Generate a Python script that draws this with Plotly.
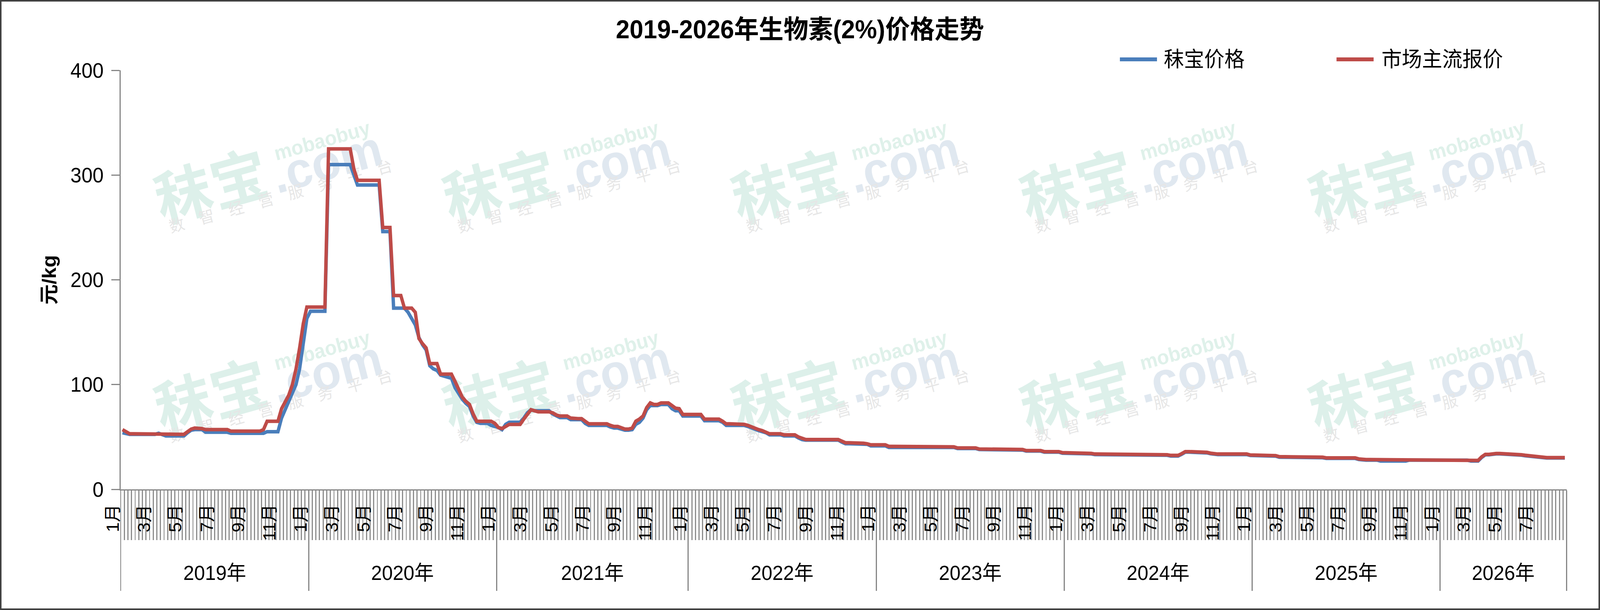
import plotly.graph_objects as go

# 2019-2026年生物素(2%)价格走势（周度数据）
years = ['2019年', '2020年', '2021年', '2022年', '2023年', '2024年', '2025年', '2026年']
weeks_per_year = [52, 52, 53, 52, 52, 52, 52, 35]
month_labels = [
    ['1月', '3月', '5月', '7月', '9月', '11月'],
    ['1月', '3月', '5月', '7月', '9月', '11月'],
    ['1月', '3月', '5月', '7月', '9月', '11月'],
    ['1月', '3月', '5月', '7月', '9月', '11月'],
    ['1月', '3月', '5月', '7月', '9月', '11月'],
    ['1月', '3月', '5月', '7月', '9月', '11月'],
    ['1月', '3月', '5月', '7月', '9月', '11月'],
    ['1月', '3月', '5月', '7月'],
]

# 秣宝价格 (元/kg)
mobao_2019 = [54, 53, 52.5, 52.5, 52.5, 52.5, 52.5, 52.5, 52.5, 52.5, 53.5, 52.5, 51, 51, 51, 51, 51, 51,
              54, 56.5, 57, 57, 57, 54.5, 54.5, 54.5, 54.5, 54.5, 54.5, 54.5, 53.5, 53.5, 53.5, 53.5, 53.5,
              53.5, 53.5, 53.5, 53.5, 53.5, 55, 55, 55, 55, 68, 76, 83, 92, 100, 115, 140, 163]
mobao_2020 = [170, 170, 170, 170, 170, 310, 310, 310, 310, 310, 310, 310, 300, 290.5, 290.5, 290.5, 290.5,
              290.5, 290.5, 290.5, 246, 246, 246, 173, 173, 173, 173, 169, 163, 157, 145, 138, 133, 118, 115,
              113.5, 109, 108, 107, 106, 97, 91, 86, 82, 79, 70, 64, 63, 63, 63, 61, 60]
mobao_2021 = [59, 57, 62, 64, 64, 64, 64, 68, 73, 76, 75, 75, 75, 75, 75, 72, 70, 68.5, 68.5, 68.5, 66.5,
              66.5, 66.5, 66.5, 63, 61, 61, 61, 61, 61, 61, 59.5, 58.5, 58.5, 57.5, 56.5, 56.5, 57, 62, 64, 68,
              76, 80, 80, 80, 81, 81, 81, 77, 75, 75, 70, 70]
mobao_2022 = [70, 70, 70, 70, 65.5, 65.5, 65.5, 65.5, 65.5, 64, 61, 61, 61, 61, 61, 61, 60, 58.5, 57, 56, 55,
              54, 52, 52, 52, 52, 51, 51, 51, 51, 49, 47.5, 47, 47, 47, 47, 47, 47, 47, 47, 47, 47, 45, 43.5,
              43.5, 43.5, 43.5, 43.5, 43.5, 43, 41.5, 41.5]
mobao_2023 = [41.5, 41.5, 41.5, 40, 40, 40, 40, 40, 40, 40, 40, 40, 40, 40, 40, 40, 40, 40, 40, 40, 40, 40,
              39, 39, 39, 39, 39, 39, 38, 38, 38, 38, 38, 38, 37.5, 37.5, 37.5, 37.5, 37.5, 37.5, 37.5, 36.5,
              36.5, 36.5, 36.5, 36.5, 35.5, 35.5, 35.5, 35.5, 35.5, 34.5]
mobao_2024 = [34.5, 34.5, 33.8, 33.8, 33.8, 33.8, 33.8, 33.8, 33.2, 33.2, 33.2, 33.2, 33.2, 33.2, 33.2, 33.2,
              33.2, 33.2, 33.2, 33.2, 33.2, 33.2, 33.2, 33.2, 33.2, 32.5, 32.5, 32.5, 32.5, 31.8, 31.8, 31.8,
              33.5, 35.5, 35.5, 35.5, 34.8, 34.8, 34.8, 34.8, 34, 33.2, 33.2, 33.2, 33.2, 33.2, 33.2, 33.2,
              33.2, 33.2, 33.2, 32.3]
mobao_2025 = [32.3, 32.3, 32.3, 31.7, 31.7, 31.7, 31.7, 30.7, 30.7, 30.7, 30.7, 30.7, 30.7, 30.7, 30.2, 30.2,
              30.2, 30.2, 30.2, 30.2, 29.5, 29.5, 29.5, 29.5, 29.5, 29.5, 29.5, 29.5, 29.5, 28.5, 27.9, 27.9,
              27.9, 27.9, 27.9, 27, 27, 27, 27, 27, 27, 27, 27, 27.9, 27.9, 27.9, 27.9, 27.9, 27.9, 27.9,
              27.9, 27.9]
mobao_2026 = [27.9, 27.9, 27.9, 27.9, 27.9, 27.9, 27.9, 27.9, 27, 27, 27, 30.5, 33, 33, 33.8, 33.8, 33.8,
              33.6, 33.6, 33.6, 33.6, 33.6, 32.6, 32, 31.6, 31.6, 30.6, 30.3, 29.9, 29.9, 29.9, 29.9, 29.9,
              29.9, 29.9]

# 市场主流报价 (元/kg)
market_2019 = [57, 55, 53, 53, 53, 53, 53, 53, 53, 53, 53, 53, 52.5, 52.5, 52.5, 52.5, 52.5, 52.5, 55, 57.5,
               58.5, 58.5, 58, 57, 57, 57, 57, 57, 57, 57, 55.5, 55.5, 55.5, 55.5, 55.5, 55.5, 55.5, 55.5,
               55.5, 57, 65, 65, 65, 65, 77, 84, 90, 100, 115, 135, 158, 174]
market_2020 = [174, 174, 174, 174, 174, 325, 325, 325, 325, 325, 325, 325, 306, 295, 295, 295, 295, 295, 295,
               295, 250, 250, 250, 185, 185, 185, 173, 173, 173, 169, 144, 139, 135, 120, 120, 120, 110, 110,
               110, 110, 103, 95, 88, 84, 81, 72, 65, 65, 65, 65, 65, 63]
market_2021 = [59, 58, 60, 62, 62, 62, 62, 67, 72, 76, 75, 74, 74, 74, 74, 73, 71, 70, 70, 70, 68, 67.5, 67.5,
               67.5, 65, 62.5, 62.5, 62.5, 62.5, 62.5, 62.5, 61, 60, 60, 59, 57.5, 57.5, 58.5, 65, 67, 70, 78,
               82.5, 81, 81, 82.5, 82.5, 82.5, 80, 77.5, 77, 71.5, 71.5]
market_2022 = [71.5, 71.5, 71.5, 71.5, 67, 67, 67, 67, 67, 65, 62.5, 62.5, 62.5, 62.5, 62.5, 62, 61, 59.5, 58,
               57, 56, 54.5, 53, 53, 53, 53, 52, 52, 52, 52, 50, 48.5, 47.5, 47.5, 47.5, 47.5, 47.5, 47.5, 47.5,
               47.5, 47.5, 47.5, 46, 44.5, 44.5, 44.5, 44.5, 44.5, 44, 43.5, 42.5, 42.5]
market_2023 = [42.5, 42.5, 42.5, 41, 41, 41, 41, 41, 40.5, 40.5, 40.5, 40.5, 40.5, 40.5, 40.5, 40.5, 40.5,
               40.5, 40.5, 40.5, 40.5, 40.5, 39.5, 39.5, 39.5, 39.5, 39.5, 39.5, 38.5, 38.5, 38.5, 38.5, 38.5,
               38.5, 38, 38, 38, 38, 38, 38, 38, 37, 37, 37, 37, 37, 36, 36, 36, 36, 36, 35]
market_2024 = [35, 35, 34.3, 34.3, 34.3, 34.3, 34.3, 34.3, 33.7, 33.7, 33.7, 33.7, 33.7, 33.7, 33.7, 33.7,
               33.7, 33.7, 33.7, 33.7, 33.7, 33.7, 33.7, 33.7, 33.7, 33, 33, 33, 33, 32.4, 32.4, 32.4, 34, 36,
               36, 36, 35.3, 35.3, 35.3, 35.3, 34.5, 33.7, 33.7, 33.7, 33.7, 33.7, 33.7, 33.7, 33.7, 33.7,
               33.7, 32.8]
market_2025 = [32.8, 32.8, 32.8, 32.2, 32.2, 32.2, 32.2, 31.2, 31.2, 31.2, 31.2, 31.2, 31.2, 31.2, 30.7, 30.7,
               30.7, 30.7, 30.7, 30.7, 30, 30, 30, 30, 30, 30, 30, 30, 30, 29, 28.4, 28.4, 28.4, 28.4, 28.4,
               27.6, 27.6, 27.6, 27.6, 27.6, 27.6, 27.6, 27.6, 28.4, 28.4, 28.4, 28.4, 28.4, 28.4, 28.4, 28.4,
               28.4]
market_2026 = [28.4, 28.4, 28.4, 28.4, 28.4, 28.4, 28.4, 28.4, 27.6, 27.6, 27.6, 31, 33.4, 33.4, 34.2, 34.2,
               34.2, 34, 34, 34, 34, 34, 33, 32.5, 32, 32, 31, 30.7, 30.3, 30.3, 30.3, 30.3, 30.3, 30.3, 30.3]

mobao = (mobao_2019 + mobao_2020 + mobao_2021 + mobao_2022 + mobao_2023 + mobao_2024 + mobao_2025
         + mobao_2026)
market = (market_2019 + market_2020 + market_2021 + market_2022 + market_2023 + market_2024 + market_2025
          + market_2026)
x = list(range(len(market)))

# 画布像素布局
W, H = 4269, 1562
L, R, T, B = 322, 4180, 180, 1253
FONT = 'Liberation Sans, Arial, Noto Sans CJK SC, sans-serif'


def fx(px):
    return (px - L) / (R - L)


def fy(py):
    return (B - py) / (B - T)


def wx(v):
    # 周序号 -> paper 坐标
    return (v + 0.5) / len(x)


fig = go.Figure()
fig.add_trace(go.Scatter(x=x, y=mobao, mode='lines', name='秣宝价格',
                         line=dict(color='#4A7EBB', width=9)))
fig.add_trace(go.Scatter(x=x, y=market, mode='lines', name='市场主流报价',
                         line=dict(color='#BE4B48', width=9)))

# 年份分隔位置与周刻度
year_edges = [-0.5]
for n in weeks_per_year:
    year_edges.append(year_edges[-1] + n)
week_edges = [i - 0.5 for i in range(len(x) + 1)]

annotations = []
for k, yr in enumerate(years):
    annotations.append(dict(x=wx((year_edges[k] + year_edges[k + 1]) / 2), xref='paper', y=fy(1467),
                            yref='paper', text=yr, showarrow=False, xanchor='center', yanchor='middle',
                            font=dict(size=52, color='black')))
    for lab in month_labels[k]:
        m = int(lab[:-1])
        annotations.append(dict(x=wx(year_edges[k] + (m - 1) * 52 / 12 - 2.2), xref='paper', y=fy(1290),
                                yref='paper', text=lab, showarrow=False, textangle=-90, borderpad=0,
                                xanchor='center', yanchor='top', font=dict(size=46, color='black')))

# 图例（自绘）
shapes = []
legend_items = [('秣宝价格', '#4A7EBB', 2988, 3087, 3103), ('市场主流报价', '#BE4B48', 3566, 3665, 3684)]
for name, col, x0, x1, tx in legend_items:
    shapes.append(dict(type='line', xref='paper', yref='paper', x0=fx(x0), x1=fx(x1), y0=fy(152), y1=fy(152),
                       line=dict(color=col, width=10)))
    annotations.append(dict(x=fx(tx), xref='paper', y=fy(152), yref='paper', text=name, showarrow=False,
                            xanchor='left', yanchor='middle', font=dict(size=54, color='black')))

# 水印
for col in range(5):
    for row in range(2):
        cx, cy = 561 + col * 770, 467 + row * 537
        for dx, dy, txt, size, color in [
            (0, 0, '<b>秣宝</b>', 152, '#ddf0ea'),
            (308, -64, '<b>.com</b>', 128, '#e0e8f0'),
            (297, -112, '<b>mobaobuy</b>', 52, '#dff1ea'),
            (187, 32, '数　智　经　营　服　务　平　台', 41, '#e6e6e6'),
        ]:
            shapes.append(dict(type='rect', xref='paper', yref='paper', layer='below',
                               x0=fx(cx + dx - 5), x1=fx(cx + dx + 5), y0=fy(cy + dy + 5), y1=fy(cy + dy - 5),
                               line=dict(width=0), fillcolor='rgba(0,0,0,0)',
                               label=dict(text=txt, textangle=-15, textposition='middle center',
                                          font=dict(size=size, color=color, family=FONT))))

# 外框
shapes.append(dict(type='rect', xref='paper', yref='paper', x0=fx(2), x1=fx(4267), y0=fy(1560), y1=fy(2),
                   line=dict(color='#404040', width=4), fillcolor='rgba(0,0,0,0)'))

fig.update_layout(
    template='none',
    width=W, height=H,
    margin=dict(l=L, r=W - R, t=T, b=H - B),
    paper_bgcolor='white', plot_bgcolor='rgba(0,0,0,0)',
    font=dict(family=FONT, color='black'),
    showlegend=False,
    title=dict(text='<b>2019-2026年生物素(2%)价格走势</b>', x=0.5, xref='container', xanchor='center',
               y=1 - 75 / H, yref='container', yanchor='middle', font=dict(size=66, color='black')),
    xaxis=dict(range=[-0.5, len(x) - 0.5], showline=True, linecolor='#868686', linewidth=3, showgrid=False,
               zeroline=False, tickmode='array', tickvals=year_edges, ticks='outside', ticklen=257,
               tickwidth=3, tickcolor='#868686', showticklabels=False, automargin=False,
               minor=dict(tickmode='array', tickvals=week_edges, ticks='outside', ticklen=127, tickwidth=2.5,
                          tickcolor='#8c8c8c', showgrid=False)),
    yaxis=dict(range=[0, 400], tickmode='linear', tick0=0, dtick=100, showline=True, linecolor='#868686',
               linewidth=3, showgrid=False, zeroline=False, ticks='outside', ticklen=22, tickwidth=3,
               tickcolor='#868686', tickfont=dict(size=53, color='black'), ticklabelstandoff=10,
               automargin=False, title=dict(text='<b>元/kg</b>', font=dict(size=52, color='black'), standoff=22)),
    annotations=annotations,
    shapes=shapes,
)

# 让整张图刚好铺满浏览器可视区域
fit_js = """
document.body.style.margin = '0';
document.body.style.overflow = 'hidden';
var gd = document.getElementById('{plot_id}');
var sx = window.innerWidth / %d, sy = window.innerHeight / %d;
gd.style.transformOrigin = '0 0';
gd.style.transform = 'scale(' + sx + ',' + sy + ')';
""" % (W, H)

fig.write_html('out.html', config={'displayModeBar': False}, post_script=fit_js)
